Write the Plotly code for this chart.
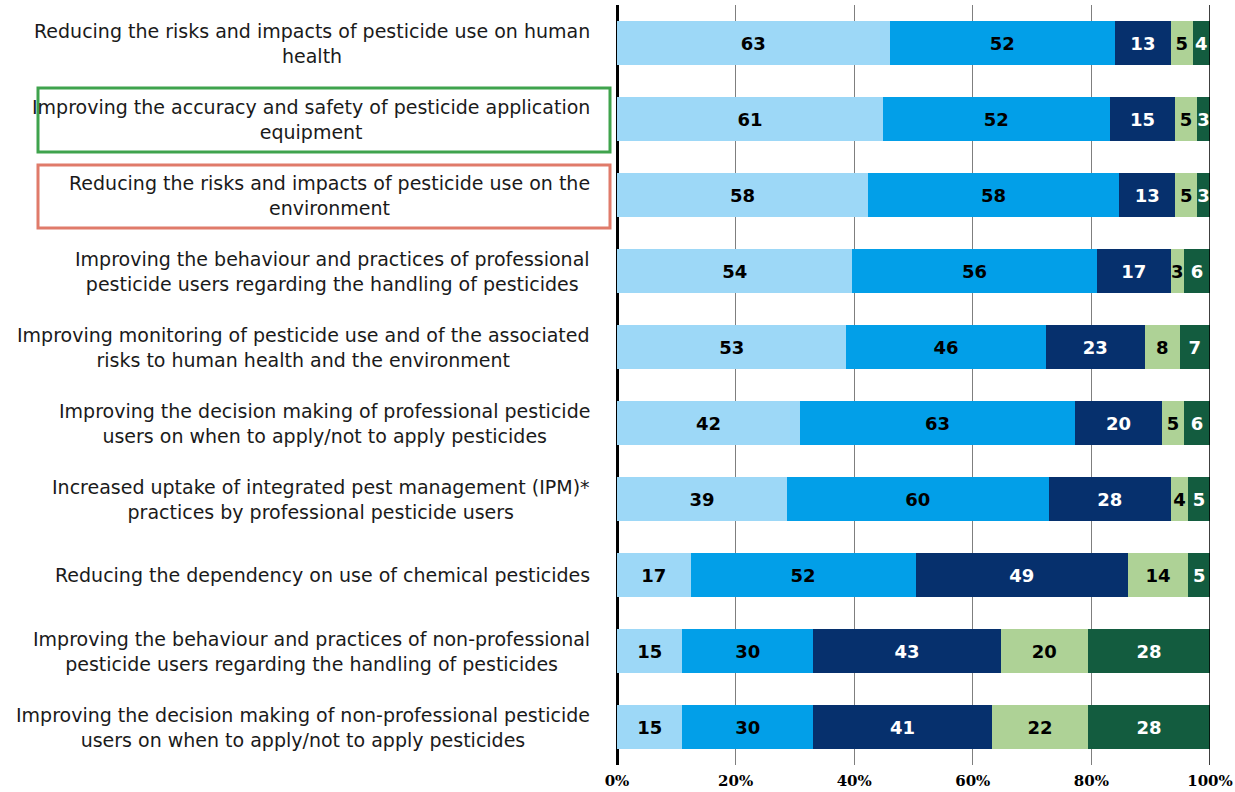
import plotly.graph_objects as go

# survey answers per objective, counts of respondents
objectives = [
    "Reducing the risks and impacts of pesticide use on human<br>health",
    "Improving the accuracy and safety of pesticide application<br>equipment",
    "Reducing the risks and impacts of pesticide use on the<br>environment",
    "Improving the behaviour and practices of professional<br>pesticide users regarding the handling of pesticides",
    "Improving monitoring of pesticide use and of the associated<br>risks to human health and the environment",
    "Improving the decision making of professional pesticide<br>users on when to apply/not to apply pesticides",
    "Increased uptake of integrated pest management (IPM)*<br>practices by professional pesticide users",
    "Reducing the dependency on use of chemical pesticides",
    "Improving the behaviour and practices of non-professional<br>pesticide users regarding the handling of pesticides",
    "Improving the decision making of non-professional pesticide<br>users on when to apply/not to apply pesticides",
]

very_high = [63, 61, 58, 54, 53, 42, 39, 17, 15, 15]
high = [52, 52, 58, 56, 46, 63, 60, 52, 30, 30]
medium = [13, 15, 13, 17, 23, 20, 28, 49, 43, 41]
low = [5, 5, 5, 3, 8, 5, 4, 14, 20, 22]
very_low = [4, 3, 3, 6, 7, 6, 5, 5, 28, 28]

tick_vals = [0, 20, 40, 60, 80, 100]
tick_text = ["0%", "20%", "40%", "60%", "80%", "100%"]

series = [
    ("Very high", very_high, "#9dd8f7", "black"),
    ("High", high, "#029fe8", "black"),
    ("Medium", medium, "#06306d", "white"),
    ("Low", low, "#aed296", "black"),
    ("Very low", very_low, "#135c3f", "white"),
]

fig = go.Figure()
for name, vals, col, txtcol in series:
    fig.add_trace(go.Bar(
        y=objectives, x=vals, name=name, orientation="h",
        marker=dict(color=col, line=dict(width=0)),
        text=vals, texttemplate="%{text}", textposition="inside",
        insidetextanchor="middle", textangle=0,
        textfont=dict(family="DejaVu Sans", size=18, color=txtcol, weight="bold"),
        showlegend=False,
    ))

# wrapped category labels, centred like the original
for lab in objectives:
    fig.add_annotation(
        x=-25 / 593, xref="paper", y=lab, yref="y",
        text=lab, showarrow=False, xanchor="right", yanchor="middle",
        align="center", font=dict(family="DejaVu Sans", size=19, color="#1a1a1a"),
    )

# highlight boxes around rows 2 and 3
def px_x(p):
    return (p - 617) / 593

def px_y(p):
    return (765 - p) / 760

fig.add_shape(type="rect", xref="paper", yref="paper",
              x0=px_x(38), x1=px_x(610), y0=px_y(152), y1=px_y(88),
              line=dict(color="#3fa34d", width=3))
fig.add_shape(type="rect", xref="paper", yref="paper",
              x0=px_x(38), x1=px_x(610), y0=px_y(228), y1=px_y(165),
              line=dict(color="#e07b6a", width=3))
fig.add_shape(type="line", xref="x", yref="paper", x0=100, x1=100, y0=0, y1=1,
              line=dict(color="black", width=1.5))

fig.update_layout(
    barmode="stack", barnorm="percent", bargap=0.43,
    width=1235, height=792,
    margin=dict(l=617, r=25, t=5, b=27),
    plot_bgcolor="white", paper_bgcolor="white",
    uniformtext=dict(minsize=18, mode="show"),
    xaxis=dict(range=[0, 100], tickvals=tick_vals, ticktext=tick_text,
               showgrid=True, gridcolor="#7f7f7f", gridwidth=1,
               zeroline=True, zerolinecolor="black", zerolinewidth=2.5,
               ticklabelstandoff=5, ticklabeloverflow="allow", automargin=False,
               tickfont=dict(family="DejaVu Serif", size=15, color="black", weight="bold"),
               fixedrange=True),
    yaxis=dict(autorange="reversed", showticklabels=False, showgrid=False,
               zeroline=False, fixedrange=True),
)

fig.write_html("out.html", config={"displayModeBar": False},
               post_script="document.body.style.margin='0px';")
